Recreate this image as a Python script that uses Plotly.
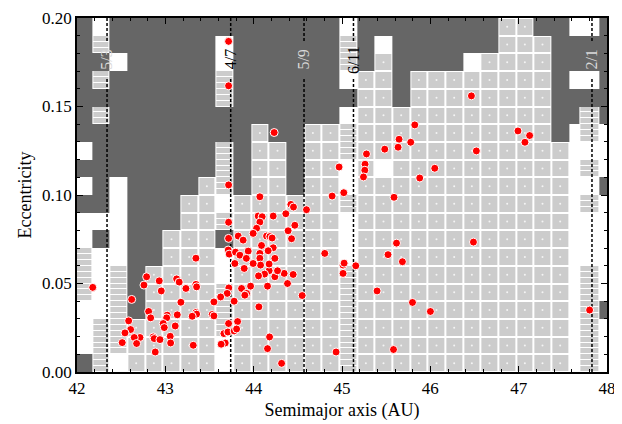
import plotly.graph_objects as go

# ---------------- stability map data ----------------
# column edges in semimajor axis (AU); last three are the 2/1 resonance strip
a_edges = [41.97 + 0.2 * k for k in range(29)] + [47.69, 47.91, 48.05]
e_edges = [0.01 * j for j in range(21)]

# status of each cell, one string per column, from top row (e 0.19-0.20) down to e 0.00-0.01
# D = unstable (dark), W = no data (white), L = stable (light)
columns = [
    "DDDDDDDWDWDWWLLLWWWD",  # 42.07
    "WLDLDLDDDDDWDWWWWLLL",  # 42.27 (5/3)
    "DDWDDDDDDWWWWWLLLLLW",
    "DDDDDDDDDDDDDDDDDLLL",
    "DDDDDDDDDDDDDDLLLLLL",
    "DDDDDDDDDDDDLLLLLLLL",
    "DDDDDDDDDDLLLLLLLLLL",
    "DDDDDDDDDLLLLLLLLLLL",
    "DWWLLDDLLLWLDWWLLLWW",  # 4/7
    "DDDDDDDDDDLLLLLLLLLL",
    "DDDDDDLLLLLLLLLLLLLL",
    "DDDDDDDLLLLLLLLLLLLL",
    "DDDDDDDDDDLLLLLLLLLL",  # 5/9
    "DDDDDDLLLLLLLLLLLLLL",
    "DDDDDDLLLLLLLLLLLLLL",
    "WLLWDWLLWWLWWWLLLLLL",  # 6/11
    "DDDLLLLLLLLLLLLLLLLL",
    "DWLLLLLLWLLLLLLLLLLL",
    "DDDDDLLLLLLLLLLLLLLL",
    "DDDLLLLLLLLLLLLLLLLL",
    "DDDLLLLLLLLLLLLLLLLL",
    "DDDLLLLLLLLLLLLLLLLL",
    "DDWLLLLLLLLLLLLLLLLL",
    "DDLLLLLLLLLLLLLLLLLL",
    "LLLLLLLLLLLLLLLLLLLL",
    "LLLLLLLLLLLLLLLLLLLL",
    "DLLLLLLLLLLLLLLLLLLL",
    "DDDDDDDLLLLLLLLLLLLL",
    "WDDWDDWWWWWWWWWWWWWW",
    "WDDWDLLWLWLWWWLLLLLL",  # 2/1
    "DDDDDDWWWDWWWWWWDWWW",
]
# columns drawn with finer (resonant) sub-cells
fine = [True, True, True, False, False, False, False, False, True, False,
        False, False, False, False, False, True, False, False, False, False,
        False, False, False, False, False, False, False, False, False, True, False]

# ---------------- observed objects ----------------
obj_a = [43.716, 43.716, 44.232, 45.824, 46.465, 46.992, 47.124, 47.071, 46.521, 46.050,
         45.880, 45.646, 45.635, 45.778, 45.484, 45.277, 45.261, 45.258, 45.243, 44.967,
         45.020, 44.888, 45.589, 46.488, 43.716, 43.716, 43.716, 43.825, 43.881, 44.070,
         44.421, 44.451, 44.598, 44.364, 44.221, 44.051, 44.096, 44.070, 44.466, 44.033,
         44.390, 43.994, 44.146, 44.183, 44.209, 44.429, 45.617, 44.089, 44.221, 43.938,
         44.164, 44.070, 45.521, 44.805, 44.070, 44.240, 43.346, 43.712, 43.723, 43.795,
         43.844, 43.917, 43.787, 43.893, 43.965, 43.863, 43.920, 43.719, 43.700, 43.626,
         43.779, 43.550, 42.788, 42.758, 42.931, 43.128, 43.157, 43.346, 43.354, 43.233,
         42.954, 42.178, 42.619, 43.176, 42.811, 42.834, 43.346, 43.354, 43.531, 43.550,
         43.304, 43.021, 43.015, 43.135, 42.585, 42.976, 42.988, 43.112, 43.716, 43.818,
         42.607, 42.543, 43.055, 42.863, 42.874, 42.939, 42.713, 42.648, 42.675, 43.060,
         42.512, 42.886, 43.316, 43.663, 43.708, 43.779, 43.807, 43.678, 43.632, 45.684,
         45.012, 45.024, 45.156, 45.012, 45.397, 45.798, 45.583, 44.933, 44.316, 44.157,
         44.180, 44.059, 44.549, 44.383, 44.157, 43.900, 44.447, 44.345, 44.240, 44.270,
         44.175, 44.123, 44.055, 44.078, 44.175, 43.994, 46.001, 47.803]
obj_e = [0.1868, 0.1617, 0.1353, 0.1396, 0.1560, 0.1362, 0.1336, 0.1298, 0.1249, 0.1151,
         0.1096, 0.1315, 0.1270, 0.1298, 0.1259, 0.1232, 0.1174, 0.1140, 0.1102, 0.1158,
         0.1013, 0.0994, 0.0987, 0.0734, 0.1057, 0.0846, 0.0755, 0.0768, 0.0745, 0.0990,
         0.0947, 0.0932, 0.0917, 0.0894, 0.0881, 0.0881, 0.0877, 0.0847, 0.0829, 0.0812,
         0.0798, 0.0783, 0.0768, 0.0765, 0.0757, 0.0753, 0.0728, 0.0715, 0.0702, 0.0683,
         0.0685, 0.0670, 0.0663, 0.0670, 0.0643, 0.0642, 0.0643, 0.0689, 0.0666, 0.0677,
         0.0660, 0.0642, 0.0613, 0.0585, 0.0485, 0.0472, 0.0444, 0.0475, 0.0444, 0.0424,
         0.0400, 0.0396, 0.0538, 0.0491, 0.0515, 0.0526, 0.0508, 0.0495, 0.0481, 0.0472,
         0.0458, 0.0478, 0.0410, 0.0394, 0.0342, 0.0306, 0.0336, 0.0327, 0.0325, 0.0317,
         0.0315, 0.0321, 0.0306, 0.0323, 0.0289, 0.0274, 0.0251, 0.0260, 0.0274, 0.0285,
         0.0240, 0.0221, 0.0202, 0.0198, 0.0189, 0.0183, 0.0195, 0.0195, 0.0161, 0.0164,
         0.0166, 0.0113, 0.0151, 0.0217, 0.0226, 0.0232, 0.0243, 0.0164, 0.0157, 0.0623,
         0.0604, 0.0615, 0.0600, 0.0557, 0.0458, 0.0393, 0.0127, 0.0113, 0.0049, 0.0132,
         0.0198, 0.0368, 0.0432, 0.0500, 0.0485, 0.0434, 0.0551, 0.0557, 0.0538, 0.0572,
         0.0572, 0.0553, 0.0543, 0.0604, 0.0610, 0.0613, 0.0342, 0.0350]

# ---------------- resonances ----------------
res_a = [42.34, 43.74, 44.57, 45.13, 47.83]
res_labels = ["5/3", "4/7", "5/9", "6/11", "2/1"]
res_label_colors = ["#d9d9d9", "#000000", "#d9d9d9", "#000000", "#d9d9d9"]
label_gap = (0.1655, 0.1870)
label_e = 0.1765

nrow = len(e_edges) - 1
ncol = len(columns)

z_base, z_cell = [], []
for j in range(nrow):
    rb, rc = [], []
    for k in range(ncol):
        s = columns[k][nrow - 1 - j]
        rb.append(0 if s == "D" else 1)
        rc.append(1 if (s == "L" and not fine[k]) else None)
    z_base.append(rb)
    z_cell.append(rc)

sub = 3
e_fine = [0.01 * j / sub for j in range(nrow * sub + 1)]
z_fine = []
for s_i in range(nrow * sub):
    j = s_i // sub
    z_fine.append([1 if (columns[k][nrow - 1 - j] == "L" and fine[k]) else None
                   for k in range(ncol)])

dot_x, dot_y = [], []
for k in range(ncol):
    if fine[k]:
        continue
    for j in range(nrow):
        if columns[k][nrow - 1 - j] == "L":
            dot_x.append((a_edges[k] + a_edges[k + 1]) / 2)
            dot_y.append(0.01 * j + 0.005)

fig = go.Figure()
fig.add_trace(go.Heatmap(x=a_edges, y=e_edges, z=z_base, zmin=0, zmax=1,
                         colorscale=[[0, "#666666"], [1, "#ffffff"]],
                         showscale=False, hoverinfo="skip"))
fig.add_trace(go.Heatmap(x=a_edges, y=e_edges, z=z_cell, zmin=0, zmax=1,
                         colorscale=[[0, "#cccccc"], [1, "#cccccc"]],
                         xgap=2, ygap=2, showscale=False, hoverinfo="skip"))
fig.add_trace(go.Heatmap(x=a_edges, y=e_fine, z=z_fine, zmin=0, zmax=1,
                         colorscale=[[0, "#cccccc"], [1, "#cccccc"]],
                         xgap=2, ygap=1, showscale=False, hoverinfo="skip"))
fig.add_trace(go.Scatter(x=dot_x, y=dot_y, mode="markers",
                         marker=dict(size=2, color="#f4f4f4"),
                         hoverinfo="skip", showlegend=False))

lx, ly = [], []
for a in res_a:
    lx += [a, a, None, a, a, None]
    ly += [0, label_gap[0], None, label_gap[1], 0.2, None]
fig.add_trace(go.Scatter(x=lx, y=ly, mode="lines",
                         line=dict(color="black", width=1.5, dash="3px,2px"),
                         hoverinfo="skip", showlegend=False))

fig.add_trace(go.Scatter(x=obj_a, y=obj_e, mode="markers",
                         marker=dict(size=8, color="#ff0000",
                                     line=dict(color="white", width=1)),
                         hoverinfo="skip", showlegend=False))

for a, t, c in zip(res_a, res_labels, res_label_colors):
    fig.add_annotation(x=a, y=label_e, text=t, textangle=-90, showarrow=False,
                       font=dict(family="Liberation Serif", size=16, color=c))

serif = "Liberation Serif"
# the page body adds an 8 px offset, so the figure is 8 px smaller than the window
fig.update_layout(
    width=614, height=416,
    margin=dict(l=69, r=15, t=10, b=52, autoexpand=False),
    plot_bgcolor="white", paper_bgcolor="white",
    showlegend=False,
    font=dict(family=serif, size=16, color="black"),
)
fig.update_xaxes(range=[42, 48], dtick=1, tick0=42, automargin=False,
                 ticks="inside", ticklen=6, tickwidth=1.2, tickcolor="black",
                 minor=dict(ticks="inside", dtick=0.2, ticklen=3, tickcolor="black", tickwidth=1),
                 showline=True, linewidth=1.5, linecolor="black", mirror="allticks",
                 showgrid=False, zeroline=False,
                 title=dict(text="Semimajor axis (AU)", font=dict(family=serif, size=18), standoff=6),
                 tickfont=dict(family=serif, size=17))
fig.update_yaxes(range=[0, 0.2], dtick=0.05, tick0=0, tickformat=".2f", automargin=False,
                 ticks="inside", ticklen=6, tickwidth=1.2, tickcolor="black",
                 minor=dict(ticks="inside", dtick=0.01, ticklen=3, tickcolor="black", tickwidth=1),
                 showline=True, linewidth=1.5, linecolor="black", mirror="allticks",
                 showgrid=False, zeroline=False,
                 title=dict(text="Eccentricity", font=dict(family=serif, size=18), standoff=6),
                 tickfont=dict(family=serif, size=17))

fig.write_html("out.html")
